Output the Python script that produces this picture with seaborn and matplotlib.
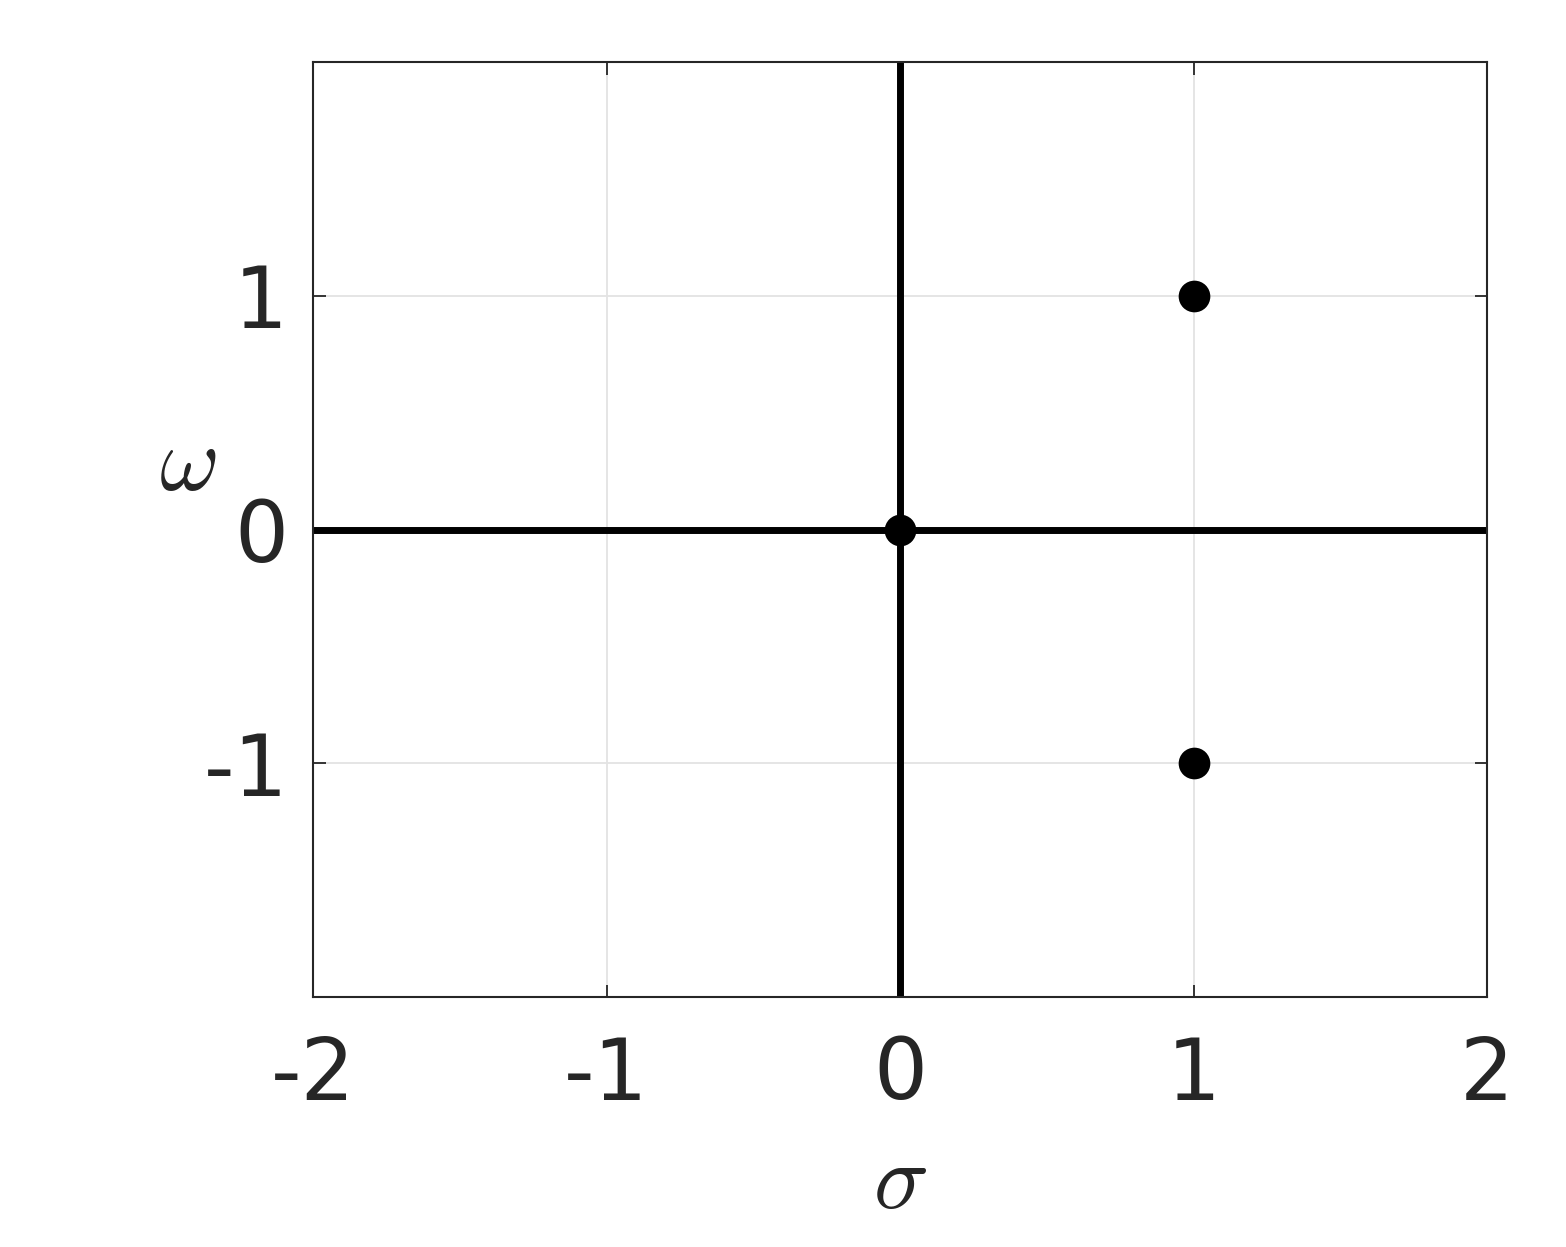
import numpy as np
import pandas as pd
import seaborn as sns
import matplotlib
matplotlib.use("Agg")
import matplotlib.pyplot as plt

# Data: pole/zero locations in the s-plane
sigma = [0, 1, 1]
omega = [0, 1, -1]
x_ticks = [-2, -1, 0, 1, 2]
y_ticks = [-1, 0, 1]
x_labels = ["-2", "-1", "0", "1", "2"]
y_labels = ["-1", "0", "1"]

sns.set_theme(style="white")
plt.rcParams['font.family'] = ['DejaVu Sans']
plt.rcParams['mathtext.fontset'] = 'cm'

fig = plt.figure(figsize=(15.66, 12.47), dpi=100)
ax = fig.add_axes([313/1566, 1 - 997/1247, (1487-313)/1566, (997-62)/1247])

df = pd.DataFrame({"sigma": sigma, "omega": omega})

ax.axhline(0, color="black", lw=5.0, zorder=2)
ax.axvline(0, color="black", lw=5.0, zorder=2)
sns.scatterplot(data=df, x="sigma", y="omega", ax=ax, color="black",
                s=520, edgecolor="black", linewidth=0, zorder=3)

ax.set_xlim(-2, 2)
ax.set_ylim(-2, 2)
ax.set_xticks(x_ticks)
ax.set_xticklabels(x_labels)
ax.set_yticks(y_ticks)
ax.set_yticklabels(y_labels)
ax.grid(True, color="#e3e3e3", lw=1.3, zorder=0)
ax.set_axisbelow(True)

ax.tick_params(axis="both", direction="in", length=9, width=1.3, color="#262626",
               labelsize=61, labelcolor="#262626", top=True, right=True,
               bottom=True, left=True, pad=18)
ax.tick_params(axis="x", pad=27)
for sp in ax.spines.values():
    sp.set_visible(True)
    sp.set_color("#262626")
    sp.set_linewidth(1.5)

ax.set_xlabel(r"$\sigma$", fontsize=66, color="#262626", labelpad=14)
ax.set_ylabel(r"$\omega$", fontsize=66, color="#262626", rotation=0, labelpad=10)
ax.yaxis.set_label_coords(-0.107, 0.522)

fig.savefig("out.png", dpi=100, facecolor="white")
